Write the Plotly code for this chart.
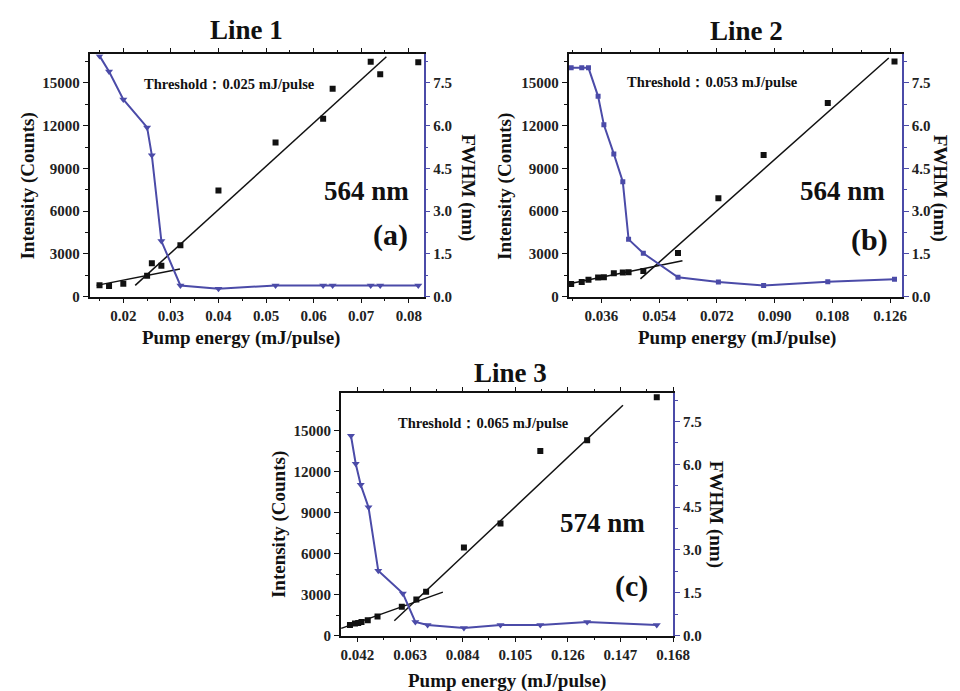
import plotly.graph_objects as go

W, H = 960, 691

# ---------------- data ----------------
# Panel (a) Line 1
a_x = [0.015, 0.017, 0.020, 0.025, 0.026, 0.028, 0.032, 0.040, 0.052, 0.062, 0.064, 0.072, 0.074, 0.082]
a_int = [790, 740, 900, 1460, 2340, 2170, 3610, 7450, 10820, 12490, 14600, 16490, 15610, 16450]
a_fwhm = [8.45, 7.9, 6.92, 5.94, 4.96, 1.95, 0.39, 0.28, 0.39, 0.39, 0.39, 0.39, 0.39, 0.39]
a_fit_low_x = [0.0144, 0.0319]
a_fit_low_y = [790, 1940]
a_fit_high_x = [0.0225, 0.0753]
a_fit_high_y = [790, 16840]

# Panel (b) Line 2
b_x = [0.0266, 0.0299, 0.0320, 0.0350, 0.0368, 0.0399, 0.0427, 0.0445, 0.0491, 0.0599, 0.0725, 0.0866, 0.1066, 0.1274]
b_int = [880, 1020, 1180, 1340, 1360, 1640, 1690, 1710, 1800, 3070, 6900, 9950, 13590, 16500]
b_fwhm = [8.03, 8.03, 8.03, 7.03, 6.03, 5.01, 4.03, 2.01, 1.52, 0.68, 0.51, 0.39, 0.52, 0.61]
b_fit_low_x = [0.0260, 0.0613]
b_fit_low_y = [900, 2516]
b_fit_high_x = [0.0482, 0.1256]
b_fit_high_y = [1246, 16754]

# Panel (c) Line 3
c_int_x = [0.0390, 0.0410, 0.0423, 0.0436, 0.0461, 0.0500, 0.0597, 0.0655, 0.0694, 0.0845, 0.0991, 0.1150, 0.1337, 0.1615]
c_int = [770, 890, 920, 990, 1130, 1400, 2120, 2650, 3210, 6460, 8200, 13510, 14300, 17440]
c_fwhm_x = [0.0394, 0.0413, 0.0433, 0.0464, 0.0503, 0.0601, 0.0651, 0.0700, 0.0845, 0.0991, 0.1150, 0.1337, 0.1615]
c_fwhm = [7.0, 6.02, 5.28, 4.5, 2.27, 1.48, 0.48, 0.37, 0.27, 0.37, 0.37, 0.48, 0.37]
c_fit_low_x = [0.0355, 0.0761]
c_fit_low_y = [531, 3184]
c_fit_high_x = [0.0567, 0.1480]
c_fit_high_y = [1085, 16860]

titles = ["Line 1", "Line 2", "Line 3"]
thresholds = ["Threshold：0.025 mJ/pulse", "Threshold：0.053 mJ/pulse", "Threshold：0.065 mJ/pulse"]
wavelengths = ["564 nm", "564 nm", "574 nm"]
labels = ["(a)", "(b)", "(c)"]
ytitles = ["Intensity (Counts)", "Intensity (Conuts)", "Intensity (Counts)"]
xtitle = "Pump energy (mJ/pulse)"
y2title = "FWHM (nm)"

# ---------------- style ----------------
FONT = "Liberation Serif"
BLUE = "#4b4ba8"
BLACK = "#111111"


def px(x):
    return x / W


def py(y):
    return 1 - y / H


fig = go.Figure()

panels = [
    dict(xi="x", yl="y", yr="y2",
         int_x=a_x, inten=a_int, fw_x=a_x, fw=a_fwhm,
         fl=(a_fit_low_x, a_fit_low_y), fh=(a_fit_high_x, a_fit_high_y), sym="triangle-down", msize=7),
    dict(xi="x2", yl="y3", yr="y4",
         int_x=b_x, inten=b_int, fw_x=b_x, fw=b_fwhm,
         fl=(b_fit_low_x, b_fit_low_y), fh=(b_fit_high_x, b_fit_high_y), sym="square", msize=5),
    dict(xi="x3", yl="y5", yr="y6",
         int_x=c_int_x, inten=c_int, fw_x=c_fwhm_x, fw=c_fwhm,
         fl=(c_fit_low_x, c_fit_low_y), fh=(c_fit_high_x, c_fit_high_y), sym="triangle-down", msize=7),
]

for p in panels:
    for fx, fy in (p["fl"], p["fh"]):
        fig.add_trace(go.Scatter(x=fx, y=fy, mode="lines", line=dict(color=BLACK, width=1.5),
                                 xaxis=p["xi"], yaxis=p["yl"], showlegend=False))
    fig.add_trace(go.Scatter(x=p["fw_x"], y=p["fw"], mode="lines+markers",
                             line=dict(color=BLUE, width=2),
                             marker=dict(symbol=p["sym"], size=p["msize"], color=BLUE),
                             xaxis=p["xi"], yaxis=p["yr"], showlegend=False))
    fig.add_trace(go.Scatter(x=p["int_x"], y=p["inten"], mode="markers",
                             marker=dict(symbol="square", size=6, color=BLACK),
                             xaxis=p["xi"], yaxis=p["yl"], showlegend=False))

tickfont = dict(family=FONT, size=15, color="#222222", weight="bold")


def xax(dom, rng, dtick, fmt, anchor):
    return dict(domain=dom, range=rng, anchor=anchor, tick0=0, dtick=dtick, tickformat=fmt,
                showgrid=False, zeroline=False, showline=True, linecolor=BLACK, linewidth=1.5,
                mirror="ticks", ticks="outside", ticklen=5, tickwidth=1.3, tickcolor=BLACK,
                minor=dict(dtick=dtick / 2, tick0=0, ticks="outside", ticklen=3, tickcolor=BLACK, showgrid=False),
                tickfont=tickfont)


def ylax(dom, rng, anchor):
    return dict(domain=dom, range=rng, anchor=anchor, tick0=0, dtick=3000, tickformat="d",
                showgrid=False, zeroline=False, showline=True, linecolor=BLACK, linewidth=1.5,
                ticks="outside", ticklen=5, tickwidth=1.3, tickcolor=BLACK,
                minor=dict(dtick=1500, ticks="outside", ticklen=3, tickcolor=BLACK, showgrid=False),
                tickfont=tickfont)


def yrax(over, rng, anchor):
    return dict(overlaying=over, side="right", anchor=anchor, range=rng, tick0=0, dtick=1.5,
                tickformat=".1f", showgrid=False, zeroline=False, showline=True, linecolor=BLUE,
                linewidth=1.5, ticks="outside", ticklen=5, tickwidth=1.3, tickcolor=BLUE,
                minor=dict(dtick=0.75, ticks="outside", ticklen=3, tickcolor=BLUE, showgrid=False),
                tickfont=tickfont)


top_dom = [py(292), py(47)]
bot_dom = [py(635), py(390)]

fig.update_layout(
    xaxis=xax([px(83), px(423)], [0.0129, 0.0831], 0.01, ".2f", "y"),
    yaxis=ylax(top_dom, [0, 17000], "x"),
    yaxis2=yrax("y", [0, 8.5], "x"),
    xaxis2=xax([px(570.7), px(910)], [0.0258, 0.1297], 0.018, ".3f", "y3"),
    yaxis3=ylax(top_dom, [0, 17000], "x2"),
    yaxis4=yrax("y3", [0, 8.5], "x2"),
    xaxis3=xax([px(338.7), px(677.3)], [0.0353, 0.1681], 0.021, ".3f", "y5"),
    yaxis5=ylax(bot_dom, [0, 17725], "x3"),
    yaxis6=yrax("y5", [0, 8.48], "x3"),
)

ann = []


def text(x, y, s, size, angle=0):
    ann.append(dict(x=px(x), y=py(y), xref="paper", yref="paper", text="<b>" + s + "</b>",
                    showarrow=False, xanchor="center", yanchor="middle", textangle=angle,
                    font=dict(family=FONT, size=size, color=BLACK)))


# panel titles
text(243, 22, titles[0], 27)
text(752, 23, titles[1], 27)
text(512, 369, titles[2], 27)
# thresholds
text(225, 77, thresholds[0], 14.5)
text(717, 75, thresholds[1], 14.5)
text(484, 420, thresholds[2], 14.5)
# wavelengths
text(365, 185, wavelengths[0], 27)
text(850, 185, wavelengths[1], 27)
text(605, 521, wavelengths[2], 27)
# panel labels
text(389, 230, labels[0], 30)
text(877, 235, labels[1], 30)
text(635, 585, labels[2], 30)
# y titles
text(20, 180, ytitles[0], 19, -90)
text(506, 181, ytitles[1], 19, -90)
text(276, 523, ytitles[2], 19, -90)
# right titles
text(468, 182, y2title, 19, 90)
text(949, 182, y2title, 19, 90)
text(721, 512, y2title, 19, 90)
# x titles
text(237, 334, xtitle, 19)
text(742, 334, xtitle, 19)
text(508, 681, xtitle, 19)

fig.update_layout(annotations=ann, width=W, height=H, margin=dict(l=0, r=0, t=0, b=0),
                  paper_bgcolor="white", plot_bgcolor="white", showlegend=False)

fig.write_html("out.html")
